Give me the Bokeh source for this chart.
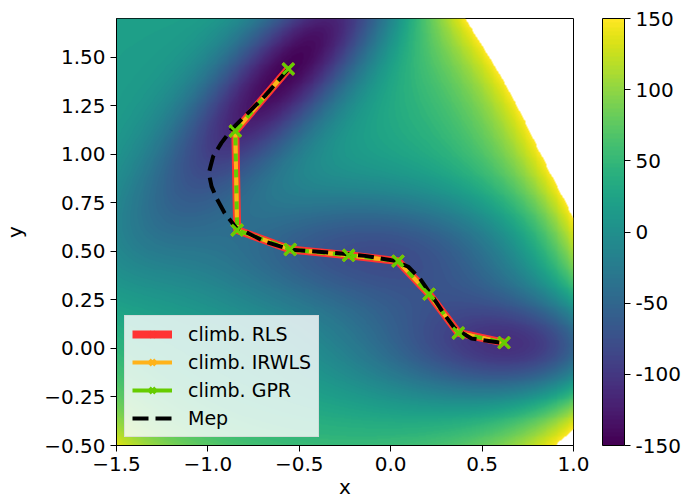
import numpy as np
from bokeh.plotting import figure
from bokeh.models import (LinearColorMapper, ColorBar, FixedTicker, CustomJSTickFormatter,
                          Legend, LegendItem, ColumnDataSource)
from bokeh.palettes import viridis
from bokeh.embed import file_html
from bokeh.resources import INLINE

# Mueller-Brown potential parameters
A = [-200.0, -100.0, -170.0, 15.0]
a = [-1.0, -1.0, -6.5, 0.7]
b = [0.0, 0.0, 11.0, 0.6]
c = [-10.0, -10.0, -6.5, 0.7]
x0 = [1.0, 0.0, -0.5, -1.0]
y0 = [0.0, 0.5, 1.5, 1.0]

x_range = (-1.5, 1.0)
y_range = (-0.5, 1.7)
n_levels = 100
v_min, v_max = -150, 150

# climbing path (same nodes for all three methods)
path_x = [-0.56, -0.85, -0.84, -0.55, -0.23, 0.04, 0.21, 0.37, 0.62]
path_y = [1.44, 1.12, 0.61, 0.51, 0.48, 0.45, 0.28, 0.08, 0.03]

# minimum energy path
mep_x = [-0.558, -0.689, -0.780, -0.871, -0.926, -0.971, -0.995, -0.980, -0.953,
         -0.908, -0.844, -0.780, -0.689, -0.543, -0.287, -0.142, 0.022, 0.096,
         0.159, 0.223, 0.296, 0.351, 0.442, 0.606, 0.623]
mep_y = [1.442, 1.300, 1.214, 1.128, 1.059, 0.990, 0.904, 0.835, 0.775,
         0.697, 0.620, 0.594, 0.551, 0.508, 0.491, 0.477, 0.452, 0.421,
         0.361, 0.275, 0.172, 0.103, 0.051, 0.029, 0.028]

x_ticks = [-1.5, -1.0, -0.5, 0.0, 0.5, 1.0]
y_ticks = [-0.5, -0.25, 0.0, 0.25, 0.5, 0.75, 1.0, 1.25, 1.5]
cb_ticks = [-150, -100, -50, 0, 50, 100, 150]

gx = np.linspace(x_range[0], x_range[1], 500)
gy = np.linspace(y_range[0], y_range[1], 450)
X, Y = np.meshgrid(gx, gy)
Z = np.zeros_like(X)
for Ai, ai, bi, ci, xi, yi in zip(A, a, b, c, x0, y0):
    Z += Ai * np.exp(ai * (X - xi) ** 2 + bi * (X - xi) * (Y - yi) + ci * (Y - yi) ** 2)

mapper = LinearColorMapper(palette=viridis(n_levels), low=v_min, high=v_max,
                           high_color=(0, 0, 0, 0), low_color=viridis(n_levels)[0])

FONT = "DejaVu Sans"
p = figure(frame_width=457, frame_height=427, x_range=x_range, y_range=y_range,
           output_backend="svg", toolbar_location=None,
           min_border_left=115, min_border_top=18, min_border_bottom=58, min_border_right=0)
p.background_fill_color = "white"
p.grid.visible = False
p.outline_line_color = "black"
p.outline_line_width = 1

p.image(image=[Z], x=x_range[0], y=y_range[0], dw=x_range[1] - x_range[0],
        dh=y_range[1] - y_range[0], color_mapper=mapper)

RED, ORANGE, GREEN = "#ff3333", "#ffb31a", "#66cc00"
src = ColumnDataSource(dict(x=path_x, y=path_y))

r_red_l = p.line("x", "y", source=src, line_color=RED, line_width=8)
r_red_m = p.scatter("x", "y", source=src, marker="x", size=14, line_color=RED, line_width=3)
r_or_l = p.line("x", "y", source=src, line_color=ORANGE, line_width=4)
r_or_m = p.scatter("x", "y", source=src, marker="x", size=16, line_color=ORANGE, line_width=3)
r_gr_l = p.line("x", "y", source=src, line_color=GREEN, line_width=4)
p.line("x", "y", source=src, line_color=ORANGE, line_width=4, line_dash="8 8")
r_gr_m = p.scatter("x", "y", source=src, marker="x", size=16, line_color=GREEN, line_width=3)
r_mep = p.line(mep_x, mep_y, line_color="black", line_width=4, line_dash="16 7")
p.scatter("x", "y", source=src, marker="x", size=15, line_color=GREEN, line_width=3)

legend = Legend(items=[
    LegendItem(label="climb. RLS", renderers=[r_red_l, r_red_m]),
    LegendItem(label="climb. IRWLS", renderers=[r_or_l, r_or_m]),
    LegendItem(label="climb. GPR", renderers=[r_gr_l, r_gr_m]),
    LegendItem(label="Mep", renderers=[r_mep]),
], location="bottom_left")
legend.label_text_font = FONT
legend.label_text_font_size = "19px"
legend.label_text_color = "black"
legend.glyph_width = 40
legend.glyph_height = 20
legend.label_height = 20
legend.spacing = 6
legend.padding = 7
legend.margin = 8
legend.label_standoff = 16
legend.background_fill_color = "white"
legend.background_fill_alpha = 0.8
legend.border_line_color = "#cccccc"
legend.border_line_width = 1
p.add_layout(legend)

p.xaxis.ticker = FixedTicker(ticks=x_ticks)
p.yaxis.ticker = FixedTicker(ticks=y_ticks)
p.xaxis.formatter = CustomJSTickFormatter(code="return tick.toFixed(1).replace('-', '\u2212');")
p.yaxis.formatter = CustomJSTickFormatter(code="return tick.toFixed(2).replace('-', '\u2212');")
for ax in (p.xaxis[0], p.yaxis[0]):
    ax.major_label_text_font = FONT
    ax.major_label_text_font_size = "20px"
    ax.major_label_text_color = "black"
    ax.axis_label_text_font = FONT
    ax.axis_label_text_font_size = "20px"
    ax.axis_label_text_font_style = "normal"
    ax.axis_label_text_color = "black"
    ax.axis_line_color = "black"
    ax.major_tick_line_color = "black"
    ax.major_tick_out = 6
    ax.major_tick_in = 0
    ax.minor_tick_line_color = None
    ax.major_label_standoff = 5
p.xaxis.axis_label = "x"
p.yaxis.axis_label = "y"
p.xaxis.axis_label_standoff = 1
p.yaxis.axis_label_standoff = 14

cb = ColorBar(color_mapper=mapper, ticker=FixedTicker(ticks=cb_ticks),
              formatter=CustomJSTickFormatter(code="return tick.toFixed(0);"),
              width=22, height=427, location=(29, 0), padding=0, margin=0,
              bar_line_color="black", bar_line_width=1,
              major_tick_in=0, major_tick_out=6, major_tick_line_color="black",
              major_label_text_font=FONT, major_label_text_font_size="20px",
              major_label_text_color="black", label_standoff=5,
              background_fill_alpha=0, border_line_color=None)
p.add_layout(cb, "right")

open("out.html", "w").write(file_html(p, INLINE))
